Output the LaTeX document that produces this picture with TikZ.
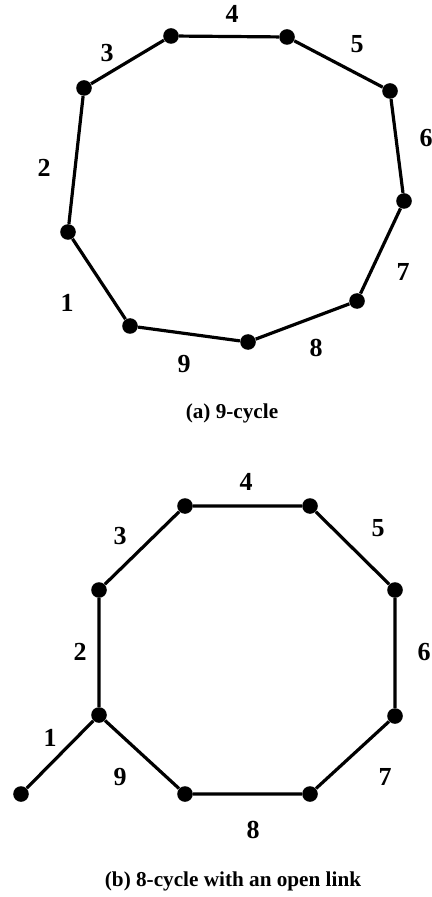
\documentclass[tikz,border=0pt]{standalone}
\usepackage{fontspec}
\setmainfont{Liberation Serif}
\usepackage{tikz}
\usetikzlibrary{positioning,calc}

\begin{document}
\begin{tikzpicture}[
    x=0.5pt, y=-0.5pt,
    vert/.style={circle, fill=black, inner sep=0pt, minimum size=7.8pt},
    edge/.style={line width=1.6pt, black},
    num/.style={font=\bfseries\fontsize{13}{13}\selectfont},
    capt/.style={font=\bfseries\fontsize{10.6}{12}\selectfont}
]
    \useasboundingbox (0,0) rectangle (432,897);

    % (a) 9-cycle
    \node[vert] (a1) at (68,232) {};
    \node[vert] (a2) at (84,88) {};
    \node[vert] (a3) at (171,36) {};
    \node[vert] (a4) at (287,37) {};
    \node[vert] (a5) at (390,91) {};
    \node[vert] (a6) at (404,201) {};
    \node[vert] (a7) at (357,301) {};
    \node[vert] (a8) at (248,342) {};
    \node[vert] (a9) at (130,326) {};

    \draw[edge] (a1) -- (a2) -- (a3) -- (a4) -- (a5) -- (a6) -- (a7) -- (a8) -- (a9) -- (a1);

    \node[num] (la1) at (67,303) {1};
    \node[num] (la2) at (44,168) {2};
    \node[num] (la3) at (107,53) {3};
    \node[num] (la4) at (232,14) {4};
    \node[num] (la5) at (357,44) {5};
    \node[num] (la6) at (426,138) {6};
    \node[num] (la7) at (403,272) {7};
    \node[num] (la8) at (316,348) {8};
    \node[num] (la9) at (184,364) {9};

    \node[capt] (capa) at (232,413) {(a) 9-cycle};

    % (b) 8-cycle with an open link
    \node[vert] (b1) at (185,506) {};
    \node[vert] (b2) at (310,506) {};
    \node[vert] (b3) at (395,590) {};
    \node[vert] (b4) at (395,716) {};
    \node[vert] (b5) at (310,794) {};
    \node[vert] (b6) at (185,794) {};
    \node[vert] (b7) at (99,715) {};
    \node[vert] (b8) at (99,590) {};
    \node[vert] (bend) at (21,794) {};

    \draw[edge] (b1) -- (b2) -- (b3) -- (b4) -- (b5) -- (b6) -- (b7) -- (b8) -- (b1);
    \draw[edge] (b7) -- (bend);

    \node[num] (lb1) at (50,738) {1};
    \node[num] (lb2) at (80,652) {2};
    \node[num] (lb3) at (120,536) {3};
    \node[num] (lb4) at (246,482) {4};
    \node[num] (lb5) at (378,528) {5};
    \node[num] (lb6) at (424,652) {6};
    \node[num] (lb7) at (385,777) {7};
    \node[num] (lb8) at (253,830) {8};
    \node[num] (lb9) at (120,777) {9};

    \node[capt] (capb) at (233,881) {(b) 8-cycle with an open link};
\end{tikzpicture}
\end{document}
